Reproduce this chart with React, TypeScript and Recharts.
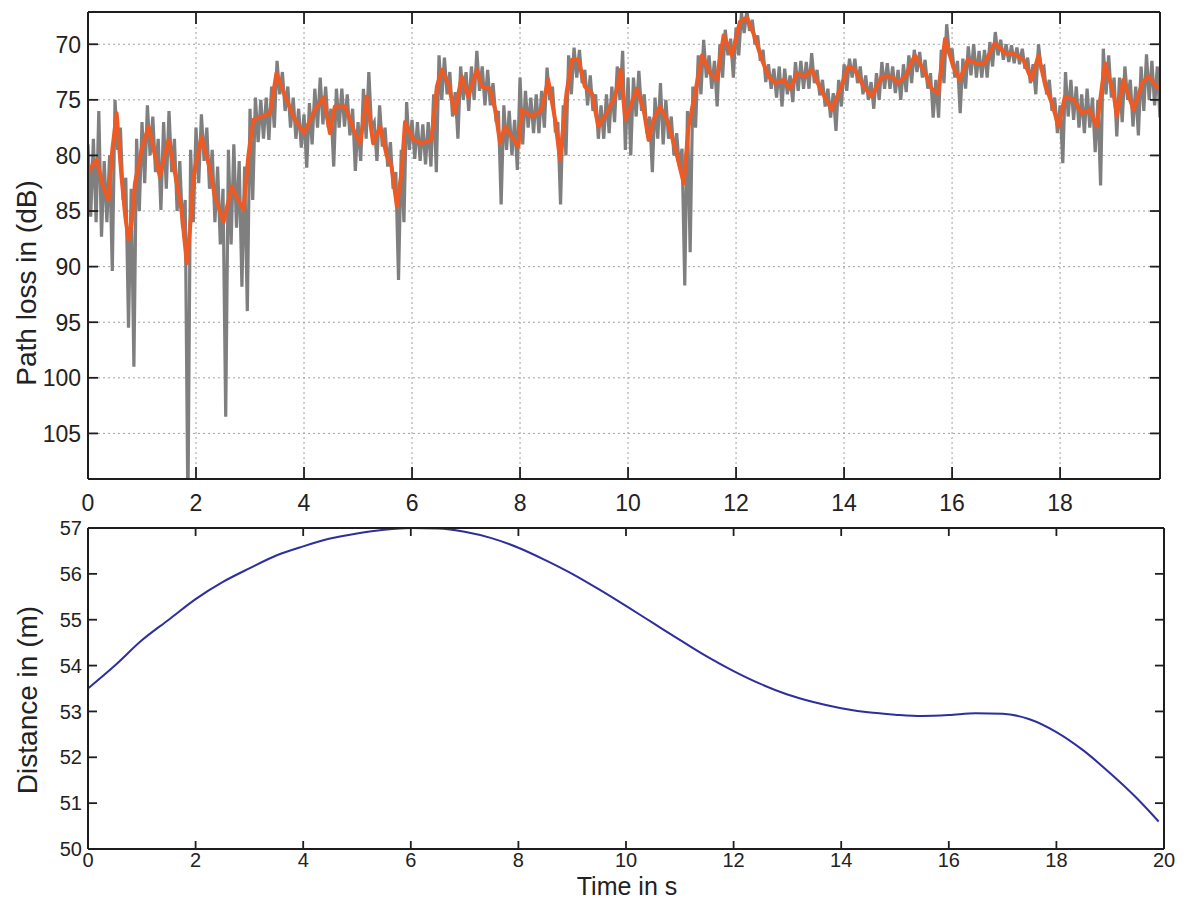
import React from 'react'
import { LineChart, Line, XAxis, YAxis, CartesianGrid } from 'recharts'

const FONT = '"Liberation Sans", Arial, Helvetica, sans-serif'
const INK = '#1e1e1e'
const RAW_COLOR = '#7f7f7f'
const SMOOTH_COLOR = '#ee5a24'
const DIST_COLOR = '#2e2e9e'

// Axis ticks
const TIME_TICKS_TOP = [0, 2, 4, 6, 8, 10, 12, 14, 16, 18]
const TIME_TICKS = [0, 2, 4, 6, 8, 10, 12, 14, 16, 18, 20]
const LOSS_TICKS = [70, 75, 80, 85, 90, 95, 100, 105]
const DIST_TICKS = [50, 51, 52, 53, 54, 55, 56, 57]

// Raw path loss trace: upper and lower swing for every 0.1 s step (dB)
const RAW_UPPER = [
  79.0, 78.5, 76.0, 80.5, 80.0, 75.0, 77.5, 82.0, 83.0, 78.5,
  77.0, 75.5, 76.5, 78.5, 77.0, 76.0, 78.5, 80.5, 84.0, 79.5,
  77.5, 76.3, 77.5, 79.5, 81.0, 83.0, 79.5, 79.0, 80.5, 81.0,
  75.8, 74.8, 75.0, 74.8, 73.8, 71.5, 72.5, 73.8, 74.8, 75.8,
  76.3, 75.3, 74.0, 73.0, 73.8, 75.8, 74.0, 74.0, 74.5, 75.8,
  77.0, 74.0, 72.5, 77.0, 75.5, 77.5, 78.8, 81.5, 79.5, 75.2,
  76.8, 77.0, 77.2, 77.0, 74.5, 71.0, 71.2, 72.5, 74.3, 72.0,
  72.5, 72.0, 70.6, 72.0, 72.3, 73.5, 76.0, 75.5, 76.0, 76.8,
  73.0, 74.2, 74.8, 74.5, 74.2, 72.1, 73.8, 77.0, 75.5, 71.0,
  70.3, 70.5, 72.3, 72.8, 74.5, 75.5, 74.5, 73.8, 72.0, 70.6,
  73.0, 73.0, 72.4, 74.5, 76.5, 74.8, 73.5, 75.0, 76.5, 78.0,
  79.4, 76.0, 73.8, 71.0, 69.6, 71.0, 71.5, 70.0, 68.7, 69.5,
  68.5, 67.2, 67.0, 67.8, 69.2, 70.5, 71.8, 72.2, 72.0, 72.2,
  72.8, 71.6, 71.5, 71.6, 70.8, 72.3, 73.2, 74.0, 74.4, 73.2,
  71.8, 71.3, 71.3, 72.0, 72.8, 73.4, 72.6, 71.6, 71.7, 72.0,
  72.3, 71.8, 71.0, 70.5, 70.7, 71.4, 72.6, 73.2, 70.5, 68.2,
  70.4, 71.5, 71.3, 70.2, 70.0, 70.6, 70.5, 69.8, 68.9, 69.6,
  70.0, 70.1, 70.3, 70.4, 71.2, 71.8, 70.0, 72.0, 73.2, 74.8,
  75.5, 72.5, 73.2, 73.8, 74.5, 74.0, 74.8, 75.0, 70.4, 71.0,
  73.0, 73.0, 72.0, 73.2, 73.8, 72.0, 70.9, 71.5, 72.0,
]
const RAW_LOWER = [
  85.5, 86.0, 87.3, 86.0, 90.4, 79.5, 84.0, 95.5, 99.0, 85.0,
  82.5, 80.0, 81.5, 84.9, 83.0, 81.5, 85.0, 86.5, 112.0, 86.0,
  82.5, 80.5, 83.0, 86.0, 88.0, 103.5, 88.0, 86.5, 91.8, 94.0,
  84.0, 78.8, 78.5, 78.6, 77.5, 74.5, 76.0, 77.5, 78.5, 79.3,
  81.1, 79.0, 77.5, 77.2, 77.5, 81.0, 77.5, 77.4, 78.2, 81.4,
  80.5, 78.5, 77.5, 80.5, 79.2, 81.0, 83.0, 91.2, 86.0, 79.5,
  80.3, 80.5, 80.8, 81.0, 81.5, 75.0, 74.5, 76.5, 78.5, 75.0,
  76.0, 75.0, 74.2, 75.5, 75.5, 76.5, 84.4, 79.5, 80.0, 81.3,
  79.0, 77.5, 78.0, 78.0, 77.5, 75.0, 77.5, 84.4, 80.0, 74.5,
  73.0, 73.5, 75.5, 76.0, 78.5, 78.5, 78.0, 77.0, 75.0, 79.5,
  80.0, 76.5, 76.0, 78.0, 81.5, 78.5, 79.0, 78.5, 80.0, 81.0,
  91.7, 88.7, 77.5, 74.5, 73.0, 74.0, 75.6, 73.0, 71.0, 73.0,
  71.0, 69.0, 68.8, 70.0, 71.5, 73.4, 74.0, 74.8, 75.6, 74.5,
  75.2, 74.2, 74.0, 74.0, 73.5, 74.6, 75.6, 76.6, 77.8, 75.6,
  74.2, 73.0, 73.5, 74.5, 75.0, 75.8, 75.0, 74.0, 74.0, 74.4,
  75.0, 74.3, 73.5, 72.5, 73.0, 74.0, 76.6, 76.6, 73.5, 71.0,
  73.0, 76.2, 74.0, 72.8, 73.0, 73.0, 73.0, 72.0, 71.0, 71.4,
  71.6, 71.7, 71.8, 72.2, 73.5, 74.5, 72.2, 74.5, 76.0, 78.0,
  80.7, 76.5, 76.8, 77.5, 78.0, 77.5, 79.7, 82.7, 74.5, 74.8,
  78.3, 77.0, 75.0, 77.4, 78.2, 76.0, 75.0, 75.5, 76.6,
]

// Smoothed path loss (s, dB)
const SMOOTH_T = [
  0, 0.08, 0.16, 0.28, 0.38, 0.45, 0.53, 0.62, 0.69, 0.75, 0.81, 0.87, 0.99,
  1.12, 1.24, 1.33, 1.41, 1.49, 1.61, 1.73, 1.83, 1.89, 1.95, 2.1, 2.23, 2.35,
  2.51, 2.66, 2.78, 2.88, 2.97, 3.06, 3.22, 3.37, 3.49, 3.65, 3.83, 4.0, 4.2,
  4.36, 4.48, 4.57, 4.76, 4.94, 5.04, 5.16, 5.28, 5.41, 5.53, 5.62, 5.72, 5.81,
  5.87, 6.02, 6.18, 6.36, 6.46, 6.55, 6.67, 6.79, 6.92, 7.04, 7.2, 7.29, 7.44,
  7.54, 7.63, 7.72, 7.84, 7.97, 8.03, 8.22, 8.4, 8.52, 8.65, 8.74, 8.86, 8.96,
  9.08, 9.2, 9.33, 9.45, 9.6, 9.76, 9.86, 9.95, 10.05, 10.16, 10.29, 10.38,
  10.47, 10.59, 10.72, 10.88, 11.03, 11.12, 11.24, 11.37, 11.52, 11.64, 11.77,
  11.92, 12.07, 12.2, 12.32, 12.48, 12.6, 12.73, 12.88, 13.0, 13.13, 13.28,
  13.4, 13.56, 13.77, 13.93, 14.08, 14.2, 14.36, 14.51, 14.7, 14.88, 15.0,
  15.13, 15.31, 15.47, 15.62, 15.74, 15.87, 16.02, 16.14, 16.29, 16.45, 16.6,
  16.79, 16.98, 17.16, 17.32, 17.47, 17.6, 17.73, 17.85, 17.97, 18.09, 18.25,
  18.4, 18.55, 18.68, 18.83, 18.99, 19.05, 19.17, 19.36, 19.52, 19.64, 19.82,
]
const SMOOTH_DB = [
  81.6, 80.9, 80.4, 82.8, 84.0, 79.5, 76.2, 81.9, 85.5, 87.6, 86.0, 82.5, 79.5,
  77.4, 80.0, 81.9, 80.2, 78.6, 81.6, 84.9, 89.7, 86.5, 81.9, 78.3, 80.7, 83.7,
  86.0, 82.8, 84.0, 84.9, 80.0, 76.8, 76.5, 76.2, 72.6, 74.7, 76.8, 78.0, 75.9,
  74.8, 78.0, 75.6, 75.6, 78.0, 78.9, 74.7, 78.9, 77.4, 80.0, 81.0, 84.6, 81.3,
  77.0, 78.6, 78.9, 78.6, 73.8, 72.3, 73.5, 76.2, 72.9, 74.7, 72.3, 73.8, 74.0,
  75.9, 78.9, 77.4, 78.3, 79.2, 75.9, 76.5, 75.9, 73.2, 76.8, 80.4, 74.4, 71.4,
  71.4, 73.8, 74.4, 77.4, 76.2, 74.7, 72.3, 76.8, 75.5, 74.0, 75.9, 78.6,
  76.8, 75.6, 76.8, 79.5, 82.5, 77.4, 74.4, 71.0, 72.6, 73.2, 69.2,
  71.0, 68.0, 67.6, 69.0, 71.4, 72.9, 73.5, 73.2, 74.0, 72.6, 72.9,
  72.3, 74.0, 75.9, 74.0, 72.0, 72.3, 73.8, 74.7, 72.9, 72.9, 73.5,
  72.9, 71.0, 72.3, 74.0, 74.4, 69.5, 72.0, 73.2, 71.4, 71.7, 71.7,
  69.9, 70.8, 70.9, 71.4, 73.2, 71.0, 73.8, 75.3, 77.4, 74.7, 75.0,
  76.2, 75.9, 77.4, 71.7, 74.4, 76.5, 73.2, 75.9, 73.5, 72.9, 74.0,
]

// Distance between the terminals (s, m)
const DIST_T = [
  0, 0.5, 1, 1.5, 2, 2.5, 3, 3.5, 4, 4.5, 5, 5.5, 6, 6.5, 7, 7.5, 8, 8.5, 9, 9.5,
  10, 10.5, 11, 11.5, 12, 12.5, 13, 13.5, 14, 14.5, 15, 15.5, 16, 16.5, 17, 17.5,
  18, 18.5, 19, 19.5, 19.9,
]
const DIST_M = [
  53.5, 54.0, 54.55, 55.0, 55.45, 55.82, 56.12, 56.4, 56.6, 56.77, 56.88, 56.96,
  57.0, 56.99, 56.92, 56.78, 56.57, 56.3, 56.0, 55.66, 55.3, 54.93, 54.56, 54.2,
  53.88, 53.6, 53.37, 53.2, 53.07, 52.98, 52.93, 52.9, 52.92, 52.96, 52.95,
  52.83, 52.55, 52.15, 51.65, 51.1, 50.6,
]

const rawTrace = RAW_UPPER.flatMap((upper, i) => [
  { t: i / 10, loss: upper },
  { t: (2 * i + 1) / 20, loss: RAW_LOWER[i] },
])
const smoothTrace = SMOOTH_T.map((t, i) => ({ t, loss: SMOOTH_DB[i] }))
const distanceTrace = DIST_T.map((t, i) => ({ t, d: DIST_M[i] }))

// tick renderers: marks point into the plot, labels sit outside
function bottomTick(len: number, size: number, dy: number) {
  return (props: any) => {
    const { x, y, payload } = props
    return (
      <g>
        <line x1={x} x2={x} y1={y} y2={y - len} stroke={INK} strokeWidth={1.8} />
        <text x={x} y={y + dy} textAnchor="middle" fontSize={size} fontFamily={FONT} fill="#222">
          {payload.value}
        </text>
      </g>
    )
  }
}

function leftTick(len: number, size: number, dx: number) {
  return (props: any) => {
    const { x, y, payload } = props
    return (
      <g>
        <line x1={x} x2={x + len} y1={y} y2={y} stroke={INK} strokeWidth={1.8} />
        <text x={x - dx} y={y + size * 0.36} textAnchor="end" fontSize={size} fontFamily={FONT} fill="#222">
          {payload.value}
        </text>
      </g>
    )
  }
}

function topMark(len: number) {
  return (props: any) => (
    <line x1={props.x} x2={props.x} y1={props.y} y2={props.y + len} stroke={INK} strokeWidth={1.8} />
  )
}

function rightMark(len: number) {
  return (props: any) => (
    <line x1={props.x} x2={props.x - len} y1={props.y} y2={props.y} stroke={INK} strokeWidth={1.8} />
  )
}

function VerticalTitle({ ax, ay, caption }: { ax: number; ay: number; caption: string }) {
  return (
    <text
      x={ax}
      y={ay}
      transform={`rotate(-90 ${ax} ${ay})`}
      textAnchor="middle"
      fontSize={28}
      fontFamily={FONT}
      fill="#222"
    >
      {caption}
    </text>
  )
}

function HorizontalTitle({ ax, ay, caption }: { ax: number; ay: number; caption: string }) {
  return (
    <text x={ax} y={ay} textAnchor="middle" fontSize={25} fontFamily={FONT} fill="#222">
      {caption}
    </text>
  )
}

const frameLine = { stroke: INK, strokeWidth: 2 }

function PathLossPanel() {
  const xDomain: [number, number] = [0, 19.85]
  const yDomain: [number, number] = [67.1, 109.1]
  return (
    <LineChart width={1192} height={530} margin={{ top: 11, right: 31, bottom: 0, left: 0 }}>
      <CartesianGrid stroke="#a0a0a0" strokeDasharray="2 3" strokeWidth={1} />
      <XAxis
        dataKey="t"
        type="number"
        domain={xDomain}
        ticks={TIME_TICKS_TOP}
        interval={0}
        allowDataOverflow
        height={51}
        tickSize={0}
        tickMargin={0}
        tickLine={false}
        axisLine={frameLine}
        tick={bottomTick(12, 23, 32)}
      />
      <XAxis
        xAxisId="top"
        orientation="top"
        dataKey="t"
        type="number"
        domain={xDomain}
        ticks={TIME_TICKS_TOP}
        interval={0}
        allowDataOverflow
        height={1}
        tickSize={0}
        tickMargin={0}
        tickLine={false}
        axisLine={frameLine}
        tick={topMark(12)}
      />
      <YAxis
        type="number"
        reversed
        domain={yDomain}
        ticks={LOSS_TICKS}
        interval={0}
        allowDataOverflow
        width={88}
        tickSize={0}
        tickMargin={0}
        tickLine={false}
        axisLine={frameLine}
        tick={leftTick(10, 23, 7)}
        label={<VerticalTitle ax={36} ay={283} caption="Path loss in (dB)" />}
      />
      <YAxis
        yAxisId="right"
        orientation="right"
        type="number"
        reversed
        domain={yDomain}
        ticks={LOSS_TICKS}
        interval={0}
        allowDataOverflow
        width={1}
        tickSize={0}
        tickMargin={0}
        tickLine={false}
        axisLine={frameLine}
        tick={rightMark(10)}
      />
      <Line
        data={rawTrace}
        dataKey="loss"
        type="linear"
        stroke={RAW_COLOR}
        strokeWidth={3.2}
        dot={false}
        isAnimationActive={false}
      />
      <Line
        data={smoothTrace}
        dataKey="loss"
        type="linear"
        stroke={SMOOTH_COLOR}
        strokeWidth={4}
        strokeLinejoin="round"
        dot={false}
        isAnimationActive={false}
      />
      {/* the same smoothed trace tied to the top/right axes so they draw the box */}
      <Line
        data={smoothTrace}
        xAxisId="top"
        yAxisId="right"
        dataKey="loss"
        stroke="none"
        dot={false}
        legendType="none"
        isAnimationActive={false}
      />
    </LineChart>
  )
}

function DistancePanel() {
  const xDomain: [number, number] = [0, 20]
  const yDomain: [number, number] = [50, 57]
  return (
    <LineChart width={1192} height={401} margin={{ top: 27, right: 27, bottom: 0, left: 0 }}>
      <XAxis
        dataKey="t"
        type="number"
        domain={xDomain}
        ticks={TIME_TICKS}
        interval={0}
        allowDataOverflow
        height={52}
        tickSize={0}
        tickMargin={0}
        tickLine={false}
        axisLine={frameLine}
        tick={bottomTick(8, 20, 18)}
        label={<HorizontalTitle ax={627} ay={395} caption="Time in s" />}
      />
      <XAxis
        xAxisId="top"
        orientation="top"
        dataKey="t"
        type="number"
        domain={xDomain}
        ticks={TIME_TICKS}
        interval={0}
        allowDataOverflow
        height={1}
        tickSize={0}
        tickMargin={0}
        tickLine={false}
        axisLine={frameLine}
        tick={topMark(8)}
      />
      <YAxis
        type="number"
        domain={yDomain}
        ticks={DIST_TICKS}
        interval={0}
        allowDataOverflow
        width={88}
        tickSize={0}
        tickMargin={0}
        tickLine={false}
        axisLine={frameLine}
        tick={leftTick(9, 20, 6)}
        label={<VerticalTitle ax={37} ay={200} caption="Distance in (m)" />}
      />
      <YAxis
        yAxisId="right"
        orientation="right"
        type="number"
        domain={yDomain}
        ticks={DIST_TICKS}
        interval={0}
        allowDataOverflow
        width={1}
        tickSize={0}
        tickMargin={0}
        tickLine={false}
        axisLine={frameLine}
        tick={rightMark(9)}
      />
      <Line
        data={distanceTrace}
        dataKey="d"
        type="monotone"
        stroke={DIST_COLOR}
        strokeWidth={2}
        dot={false}
        isAnimationActive={false}
      />
      <Line
        data={distanceTrace}
        xAxisId="top"
        yAxisId="right"
        dataKey="d"
        stroke="none"
        dot={false}
        legendType="none"
        isAnimationActive={false}
      />
    </LineChart>
  )
}

export default function App() {
  return (
    <div style={{ position: 'absolute', left: 0, top: 0, width: 1192, height: 901, background: '#fff' }}>
      <div style={{ position: 'absolute', left: 0, top: 0 }}>
        <PathLossPanel />
      </div>
      <div style={{ position: 'absolute', left: 0, top: 500 }}>
        <DistancePanel />
      </div>
    </div>
  )
}
